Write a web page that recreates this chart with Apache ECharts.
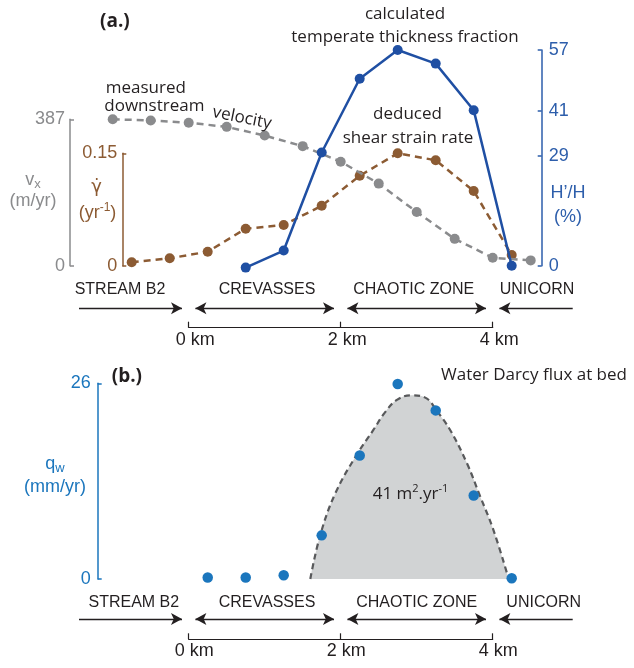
<!DOCTYPE html>
<html><head><meta charset="utf-8">
<script src="https://cdn.jsdelivr.net/npm/echarts@6/dist/echarts.min.js"></script>
<style>html,body{margin:0;padding:0;background:#fff}#c{width:634px;height:668px}</style>
</head><body><div id="c"></div>
<script>
// ---------------- data ----------------
const kmVelocity = [-1, -0.5, 0, 0.5, 1, 1.5, 2, 2.5, 3, 3.5, 4, 4.5];
const velocity   = [387, 384, 378, 367, 344, 316, 275, 217, 142, 71, 21, 14];

const kmStrain   = [-0.75, -0.25, 0.25, 0.75, 1.25, 1.75, 2.25, 2.75, 3.25, 3.75, 4.25];
const strainRate = [0.0045, 0.0099, 0.0187, 0.0494, 0.0543, 0.080, 0.120, 0.150, 0.1407, 0.0997, 0.0143];

const kmTemperate       = [0.75, 1.25, 1.75, 2.25, 2.75, 3.25, 3.75, 4.25];
const temperateFraction = [-0.5, 4, 29.9, 49.4, 57, 53.4, 41.1, 0];

const kmFlux     = [0.25, 0.75, 1.25, 1.75, 2.25, 2.75, 3.25, 3.75, 4.25];
const darcyFlux  = [0.2, 0.2, 0.5, 5.8, 16.4, 25.9, 22.4, 11.1, 0.1];

const kmFit      = [1.6, 1.73, 1.93, 2.21, 2.43, 2.58, 2.74, 2.93, 3.13, 3.26, 3.44, 3.66, 3.83, 4.01, 4.21];
const fitFlux    = [0, 5.8, 11.4, 16.5, 19.8, 22.1, 23.8, 24.4, 24.0, 22.4, 19.8, 15.4, 11.1, 6.5, 0];

const velocityTicks  = [0, 387];
const strainTicks    = [0, 0.15];
const temperateTicks = [0, 29, 41, 57];
const fluxTicks      = [0, 26];
const kmTicks        = [0, 2, 4];
const zoneBounds     = [0, 2, 4];
const zones          = ['STREAM B2', 'CREVASSES', 'CHAOTIC ZONE', 'UNICORN'];

// ---------------- layout ----------------
const KM0 = 188.7, PXKM = 76;
const kmAt = px => (px - KM0) / PXKM;
const INK = '#231f20';
const GRAY = '#8a8b8d', BROWN = '#8c5b33', BLUE = '#1f4fa3', BLUE_T = '#2d5eab', QBLUE = '#1b76bd';
const NUM_FONT = 'Liberation Sans, Arial, sans-serif';
const ANN_FONT = 'Open Sans, sans-serif';

const grids = [], xAxes = [], yAxes = [];
function addGrid(left, right, top, bottom, xOpt, yOpt) {
  const i = grids.length;
  grids.push({left: left, top: top, width: right - left, height: bottom - top, containLabel: false});
  xAxes.push(Object.assign({gridIndex: i, type: 'value', min: kmAt(left), max: kmAt(right), show: false}, xOpt || {}));
  yAxes.push(Object.assign({gridIndex: i, type: 'value', show: false, min: -1, max: 1}, yOpt || {}));
  return i;
}
function yAx(color, min, max, ticks, pos, margin) {
  return {show: true, position: pos, min: min, max: max,
    axisLine: {show: true, onZero: false, lineStyle: {color: color, width: 1.5}},
    axisTick: {show: true, inside: true, length: 4, customValues: ticks, lineStyle: {color: color, width: 1.5}},
    axisLabel: {show: true, customValues: ticks, color: color, fontSize: 18, fontFamily: NUM_FONT, margin: margin},
    splitLine: {show: false}};
}
function kmAxis(padLeft) {
  return {show: true, min: 0, max: 4, position: 'bottom',
    axisLine: {show: true, onZero: false, lineStyle: {color: INK, width: 1.2}},
    axisTick: {show: true, inside: true, length: 6, customValues: kmTicks, lineStyle: {color: INK, width: 1.2}},
    axisLabel: {show: true, customValues: kmTicks, formatter: '{value} km', color: INK, fontSize: 18,
      fontFamily: NUM_FONT, margin: 3, padding: [0, 0, 0, padLeft]},
    splitLine: {show: false}};
}

const gGray   = addGrid(70, 541.7, 119.3, 265.7, null, yAx(GRAY, 0, 387, velocityTicks, 'left', 5));
const gBrown  = addGrid(122.3, 541.7, 153.3, 265.7, null, yAx(BROWN, 0, 0.15, strainTicks, 'left', 5));
const gBlue   = addGrid(70, 541.7, 50, 265.7, null, yAx(BLUE_T, 0, 57, temperateTicks, 'right', 7));
const gKmTop  = addGrid(KM0, KM0 + 4 * PXKM, 310, 327.7, kmAxis(13));
const gArrTop = addGrid(20, 614, 300.3, 316.3);
const gQ      = addGrid(97.7, 600, 383.3, 579, null, yAx(QBLUE, 0, 26, fluxTicks, 'left', 7));
const gKmBot  = addGrid(KM0, KM0 + 4 * PXKM, 620, 639.3, kmAxis(11));
const gArrBot = addGrid(20, 614, 611, 627);

const pairs = (xs, ys) => xs.map((x, i) => [x, ys[i]]);

const ARROW_W = 9, ARROW_H = 11;
function arrowSeries(gi) {
  const off = (1.2 + ARROW_H / 2) / PXKM;
  const ends = [kmAt(79)].concat(zoneBounds, [kmAt(572.7)]);
  const data = [];
  for (let i = 0; i < ends.length - 1; i++) {
    const a = ends[i] + (i === 0 ? 0 : off);
    const b = ends[i + 1] - (i === ends.length - 2 ? 0 : off);
    data.push([
      {coord: [a, 0], symbol: i === 0 ? 'none' : 'arrow'},
      {coord: [b, 0], symbol: i === ends.length - 2 ? 'none' : 'arrow'}
    ]);
  }
  return {type: 'line', xAxisIndex: gi, yAxisIndex: gi, data: [], silent: true,
    markLine: {silent: true, animation: false, symbolSize: [ARROW_W, ARROW_H], label: {show: false},
      lineStyle: {color: INK, width: 1.3, type: 'solid'}, emphasis: {disabled: true}, data: data}};
}

const dotLine = (gi, xs, ys, color, dashed, z) => ({
  type: 'line', xAxisIndex: gi, yAxisIndex: gi, data: pairs(xs, ys), clip: false, z: z,
  symbol: 'circle', symbolSize: 10, showSymbol: true,
  itemStyle: {color: color}, lineStyle: {color: color, width: 2.5, type: dashed ? [7, 5] : 'solid'}
});

const series = [
  dotLine(gBrown, kmStrain, strainRate, BROWN, true, 2),
  dotLine(gGray, kmVelocity, velocity, GRAY, true, 3),
  dotLine(gBlue, kmTemperate, temperateFraction, BLUE, false, 4),
  {type: 'line', xAxisIndex: gQ, yAxisIndex: gQ, data: pairs(kmFit, fitFlux), smooth: 0.4, symbol: 'none', z: 1,
    clip: false, lineStyle: {color: '#58595b', width: 2.2, type: [6, 4]}, areaStyle: {color: '#d1d3d4', opacity: 1}},
  {type: 'scatter', xAxisIndex: gQ, yAxisIndex: gQ, data: pairs(kmFlux, darcyFlux), symbolSize: 10.5, z: 3,
    clip: false, itemStyle: {color: QBLUE, opacity: 1}},
  arrowSeries(gArrTop),
  arrowSeries(gArrBot)
];

function txt(x, y, text, o) {
  o = o || {};
  const st = {text: text, fill: o.fill || INK, fontSize: o.size || 17, fontFamily: o.family || ANN_FONT,
    fontWeight: o.weight || 'normal',
    textAlign: o.align || 'center', align: o.align || 'center',
    textVerticalAlign: 'middle', verticalAlign: 'middle'};
  if (o.rich) st.rich = o.rich;
  return {type: 'text', x: x, y: y, rotation: o.rot || 0, silent: true, z: 100, style: st};
}
const supRich = (color, size) => ({
  b: {fontSize: size, fontFamily: NUM_FONT, fill: color, color: color, lineHeight: 22},
  p: {fontSize: 12, fontFamily: NUM_FONT, fill: color, color: color, verticalAlign: 'top', lineHeight: 12},
  s: {fontSize: 13, fontFamily: NUM_FONT, fill: color, color: color, verticalAlign: 'bottom', lineHeight: 13}
});

const zoneXTop = [120, 267, 413.7, 537], zoneXBot = [133.8, 267, 416.7, 543.7];
const graphics = [
  txt(100, 22, '(a.)', {align: 'left', weight: 'bold', size: 19}),
  txt(405, 14, 'calculated'),
  txt(405, 36.7, 'temperate thickness fraction'),
  txt(145.8, 88.3, 'measured'),
  txt(104.3, 106, 'downstream', {align: 'left'}),
  txt(242, 118, 'velocity', {rot: -0.2}),
  txt(407.5, 114, 'deduced'),
  txt(408, 137.7, 'shear strain rate'),
  txt(33, 180, '{b|v}{s|x}', {fill: GRAY, family: NUM_FONT, size: 18, rich: supRich(GRAY, 18)}),
  txt(33, 201.5, '(m/yr)', {fill: GRAY, family: NUM_FONT, size: 18}),
  txt(96.7, 187, 'γ\u0307', {fill: BROWN, family: 'DejaVu Sans', size: 18}),
  txt(97.5, 213, '{b|(yr}{p|-1}{b|)}', {fill: BROWN, family: NUM_FONT, size: 18, rich: supRich(BROWN, 18)}),
  txt(568, 193.3, 'H\u2019/H', {fill: BLUE_T, family: NUM_FONT, size: 18}),
  txt(568, 216.7, '(%)', {fill: BLUE_T, family: NUM_FONT, size: 18}),
  txt(111.7, 376.7, '(b.)', {align: 'left', weight: 'bold', size: 19}),
  txt(534, 375, 'Water Darcy flux at bed'),
  txt(372.7, 494, '{b|41 m}{p|2}{b|.yr}{p|-1}', {align: 'left', rich: {
    b: {fontSize: 17, fontFamily: ANN_FONT, fill: INK, color: INK, lineHeight: 22},
    p: {fontSize: 11, fontFamily: ANN_FONT, fill: INK, color: INK, verticalAlign: 'top', lineHeight: 11}}}),
  txt(55, 464, '{b|q}{s|w}', {fill: QBLUE, family: NUM_FONT, size: 18, rich: supRich(QBLUE, 18)}),
  txt(55, 486.7, '(mm/yr)', {fill: QBLUE, family: NUM_FONT, size: 18})
];
zones.forEach((z, i) => {
  graphics.push(txt(zoneXTop[i], 290, z, {family: NUM_FONT, size: 16}));
  graphics.push(txt(zoneXBot[i], 602.3, z, {family: NUM_FONT, size: 16}));
});

const chart = echarts.init(document.getElementById('c'), null, {renderer: 'canvas'});
chart.setOption({
  animation: false,
  backgroundColor: '#fff',
  grid: grids, xAxis: xAxes, yAxis: yAxes,
  series: series,
  graphic: {elements: graphics}
});
</script></body></html>
